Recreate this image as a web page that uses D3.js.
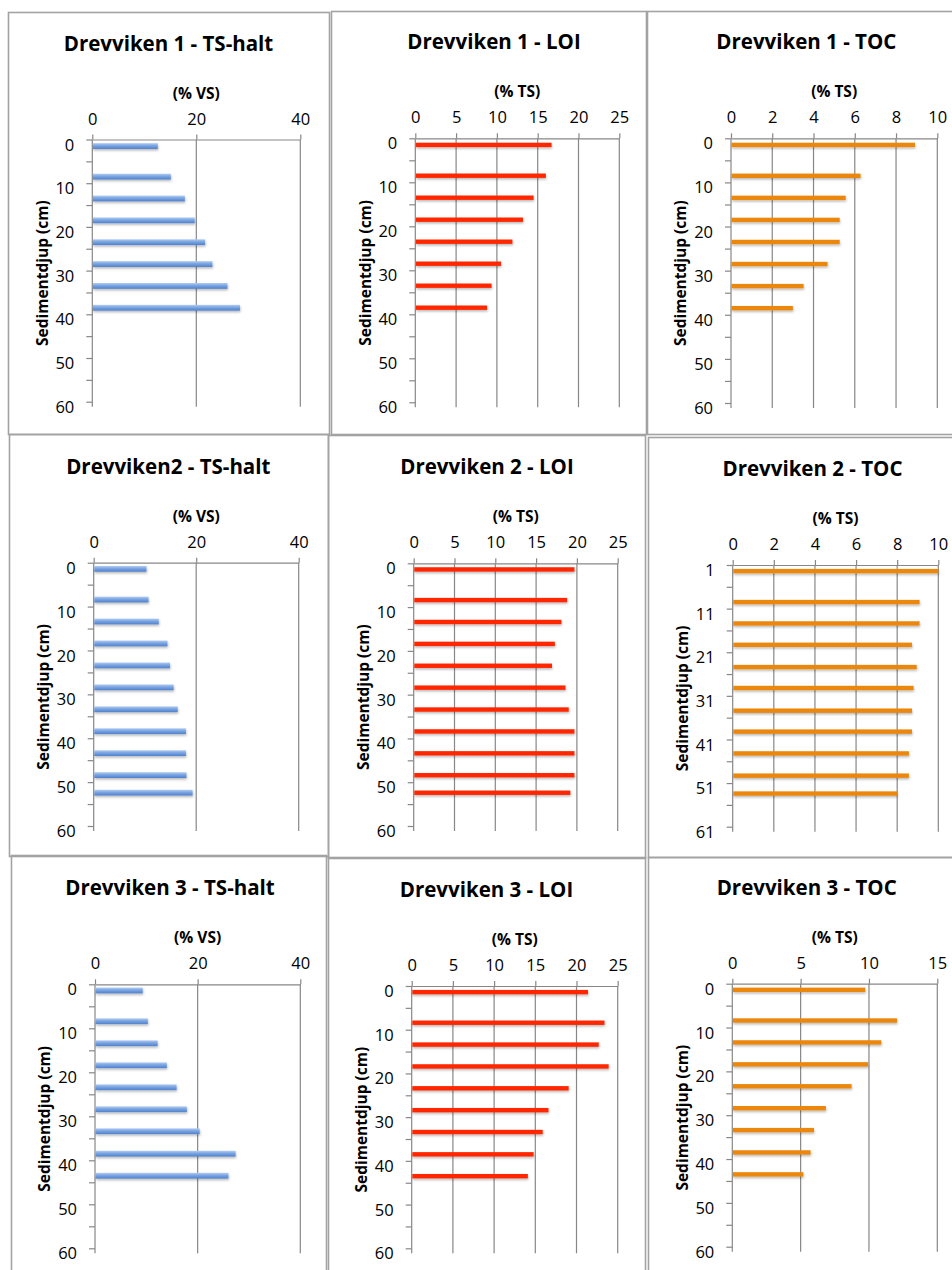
<!DOCTYPE html>
<html><head><meta charset="utf-8">
<script src="https://cdn.jsdelivr.net/npm/d3@7"></script>
<style>
body{margin:0;background:#fff}
svg{display:block}
text{font-family:"Open Sans",sans-serif;fill:#000}
</style>
</head><body><svg id="c" width="952" height="1270"></svg>
<script>
// ---------- data ----------
const titles = ["Drevviken 1 - TS-halt","Drevviken 1 - LOI","Drevviken 1 - TOC",
                "Drevviken2 - TS-halt","Drevviken 2 - LOI","Drevviken 2 - TOC",
                "Drevviken 3 - TS-halt","Drevviken 3 - LOI","Drevviken 3 - TOC"];
const unitTS = "(% VS)";
const unitOther = "(% TS)";
const yTitle = "Sedimentdjup (cm)";

// depth (cm) of each sample
const depth1 = [1.5, 8.5, 13.5, 18.5, 23.5, 28.5, 33.5, 38.5];
const depth2 = [1.4, 8.4, 13.4, 18.4, 23.4, 28.4, 33.4, 38.4, 43.4, 48.4, 52.4];
const depth2toc = [2.4, 9.5, 14.4, 19.3, 24.4, 29.2, 34.4, 39.2, 44.2, 49.3, 53.4];
const depth3 = [1.4, 8.4, 13.4, 18.4, 23.4, 28.4, 33.4, 38.5, 43.5];

// values
const ts1  = [12.6, 15.1, 17.8, 19.7, 21.7, 23.1, 26.0, 28.4];
const loi1 = [16.7, 16.0, 14.5, 13.2, 11.9, 10.5, 9.35, 8.8];
const toc1 = [8.92, 6.28, 5.56, 5.27, 5.27, 4.68, 3.52, 3.0];
const ts2  = [10.3, 10.7, 12.7, 14.4, 14.9, 15.6, 16.4, 18.0, 18.0, 18.1, 19.3];
const loi2 = [19.7, 18.8, 18.1, 17.3, 16.95, 18.6, 19.0, 19.7, 19.7, 19.7, 19.2];
const toc2 = [10.0, 9.09, 9.09, 8.72, 8.95, 8.8, 8.72, 8.72, 8.57, 8.57, 8.0];
const ts3  = [9.3, 10.3, 12.2, 14.0, 15.9, 17.9, 20.4, 27.4, 26.0];
const loi3 = [21.4, 23.4, 22.7, 23.9, 19.05, 16.6, 15.9, 14.8, 14.1];
const toc3 = [9.73, 12.05, 10.9, 9.93, 8.73, 6.85, 5.98, 5.73, 5.2];

// tick labels
const xTicksTS  = [0, 20, 40];
const xTicksLOI = [0, 5, 10, 15, 20, 25];
const xTicksTOC = [0, 2, 4, 6, 8, 10];
const xTicksTOC3 = [0, 5, 10, 15];
const yTicksDepth = [0, 10, 20, 30, 40, 50, 60];
const yTicksDepth2 = [1, 11, 21, 31, 41, 51, 61];

// ---------- layout / style ----------
const styles = {
  ts:  {fill:"url(#blueGrad)", h:5.8},
  loi: {fill:"#ff2800", h:4.4},
  toc: {fill:"#ec870c", h:4.4}
};
const panels = [
  {t:titles[0], unit:unitTS,    d:depth1,    v:ts1,  xt:xTicksTS,   yt:yTicksDepth,  s:"ts",  box:[8,12,321,422],   px:[92.3,300.3],  py:[139.5,401.7],  tx:168.5},
  {t:titles[1], unit:unitOther, d:depth1,    v:loi1, xt:xTicksLOI,  yt:yTicksDepth,  s:"loi", box:[331,11,315,423],  px:[415.3,619.3], py:[138.3,402.3],  tx:494},
  {t:titles[2], unit:unitOther, d:depth1,    v:toc1, xt:xTicksTOC,  yt:yTicksDepth,  s:"toc", box:[647,11,330,423],  px:[731,937.3],   py:[138.3,403],    tx:806.3},
  {t:titles[3], unit:unitTS,    d:depth2,    v:ts2,  xt:xTicksTS,   yt:yTicksDepth,  s:"ts",  box:[9,434,319,422],   px:[93.7,298.7],  py:[562.7,826],    tx:168.3},
  {t:titles[4], unit:unitOther, d:depth2,    v:loi2, xt:xTicksLOI,  yt:yTicksDepth,  s:"loi", box:[328,435,317,423], px:[413.7,617.7], py:[563.3,826],    tx:487},
  {t:titles[5], unit:unitOther, d:depth2toc, v:toc2, xt:xTicksTOC,  yt:yTicksDepth2, s:"toc", box:[648,437,330,420], px:[732.7,938.3], py:[565,826.7],    tx:812.5},
  {t:titles[6], unit:unitTS,    d:depth3,    v:ts3,  xt:xTicksTS,   yt:yTicksDepth,  s:"ts",  box:[11,855,315,430],  px:[95,300.3],    py:[984.3,1248.3], tx:170},
  {t:titles[7], unit:unitOther, d:depth3,    v:loi3, xt:xTicksLOI,  yt:yTicksDepth,  s:"loi", box:[328,857,317,430], px:[411.7,617.7], py:[986,1248.3],   tx:486.5},
  {t:titles[8], unit:unitOther, d:depth3,    v:toc3, xt:xTicksTOC3, yt:yTicksDepth,  s:"toc", box:[648,857,330,430], px:[732.3,937.3], py:[983.7,1246.7], tx:806.7}
];
const GRID = "#878787";

const svg = d3.select("#c");
const defs = svg.append("defs");
const g = defs.append("linearGradient").attr("id","blueGrad").attr("x1",0).attr("y1",0).attr("x2",0).attr("y2",1);
g.append("stop").attr("offset","0%").attr("stop-color","#b3cdf1");
g.append("stop").attr("offset","40%").attr("stop-color","#7ea8e4");
g.append("stop").attr("offset","100%").attr("stop-color","#4f80cc");
defs.append("filter").attr("id","sh").attr("x","-5%").attr("y","-50%").attr("width","110%").attr("height","250%")
  .append("feDropShadow").attr("dx",0.5).attr("dy",1.6).attr("stdDeviation",0.9)
  .attr("flood-color","#000").attr("flood-opacity",0.28);

panels.forEach(p => {
  const root = svg.append("g");
  // panel frame
  root.append("rect").attr("x",p.box[0]+0.5).attr("y",p.box[1]+0.5)
    .attr("width",p.box[2]).attr("height",p.box[3])
    .attr("fill","none").attr("stroke","#a3a3a3").attr("stroke-width",1.6);

  const xMax = p.xt[p.xt.length-1];
  const x = d3.scaleLinear().domain([0, xMax]).range(p.px);
  const y = d3.scaleLinear().domain([p.yt[0], p.yt[p.yt.length-1]]).range(p.py);
  const x0 = p.px[0], y0 = p.py[0], yBottom = p.py[1] + 5;

  // title
  root.append("text").attr("x",p.tx).attr("y",y0-89).attr("text-anchor","middle")
    .attr("font-size","20.5px").attr("font-weight","bold").text(p.t);
  // x-axis unit title
  root.append("text").attr("x",(p.px[0]+p.px[1])/2).attr("y",y0-41).attr("text-anchor","middle")
    .attr("font-size","15.5px").attr("font-weight","bold").text(p.unit);
  // y-axis title
  root.append("text").attr("transform",`translate(${x0-50},${(y0+yBottom)/2}) rotate(-90)`)
    .attr("text-anchor","middle").attr("dy","0.35em")
    .attr("font-size","15.5px").attr("font-weight","bold").text(yTitle);

  // vertical gridlines
  root.append("g").selectAll("line").data(p.xt.slice(1)).join("line")
    .attr("x1",d=>x(d)).attr("x2",d=>x(d)).attr("y1",y0).attr("y2",yBottom)
    .attr("stroke",GRID).attr("stroke-width",1.2);

  // top (value) axis
  const xa = root.append("g").attr("transform",`translate(0,${y0})`)
    .call(d3.axisTop(x).tickValues(p.xt).tickSize(5).tickSizeOuter(0).tickPadding(10).tickFormat(d3.format("d")));
  xa.select(".domain").attr("stroke",GRID).attr("stroke-width",1.2);
  xa.selectAll(".tick line").attr("stroke",GRID).attr("stroke-width",1.2);
  xa.selectAll("text").attr("font-size","16.5px").attr("font-family","'Open Sans',sans-serif").attr("fill","#000");

  // left (depth) axis: minor ticks every 5, labels every 10
  const step = p.yt[1]-p.yt[0];
  const allTicks = d3.range(p.yt[0], p.yt[p.yt.length-1]+0.01, step/2);
  const ya = root.append("g").attr("transform",`translate(${x0},0)`)
    .call(d3.axisLeft(y).tickValues(allTicks).tickSize(6).tickSizeOuter(0).tickPadding(12)
      .tickFormat(d => p.yt.includes(d) ? d3.format("d")(d) : ""));
  ya.select(".domain").remove();
  ya.selectAll(".tick line").attr("stroke",GRID).attr("stroke-width",1.2);
  ya.selectAll("text").attr("font-size","16.5px").attr("dy","0.64em")
    .attr("font-family","'Open Sans',sans-serif").attr("fill","#000");
  root.append("line").attr("x1",x0).attr("x2",x0).attr("y1",y0).attr("y2",yBottom)
    .attr("stroke",GRID).attr("stroke-width",1.2);

  // bars
  const st = styles[p.s];
  root.append("g").attr("filter","url(#sh)").selectAll("rect")
    .data(p.v.map((v,i)=>({v, d:p.d[i]}))).join("rect")
    .attr("x", x(0)+0.6)
    .attr("y", d => y(d.d) - st.h/2)
    .attr("width", d => x(d.v) - x(0) - 0.6)
    .attr("height", st.h)
    .attr("fill", st.fill);
});
</script></body></html>
